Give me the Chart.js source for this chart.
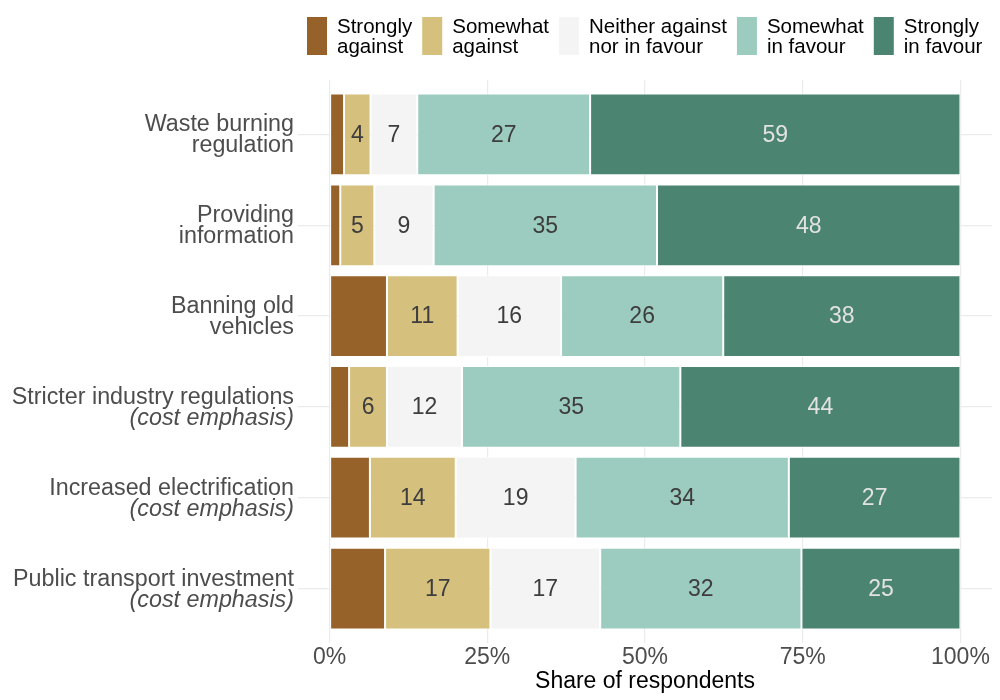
<!DOCTYPE html>
<html>
<head>
<meta charset="utf-8">
<script src="https://cdn.jsdelivr.net/npm/chart.js@4.4.1/dist/chart.umd.min.js"></script>
<style>
  html, body { margin: 0; padding: 0; background: #ffffff; }
  #wrap { width: 1000px; height: 700px; position: relative; }
</style>
</head>
<body>
<div id="wrap"><canvas id="c" width="1000" height="700"></canvas></div>
<script>
// ---- data ----
const categoryMain = [
  ["Waste burning", "regulation"],
  ["Providing", "information"],
  ["Banning old", "vehicles"],
  ["Stricter industry regulations"],
  ["Increased electrification"],
  ["Public transport investment"]
];
const categoryNote = [null, null, null, "(cost emphasis)", "(cost emphasis)", "(cost emphasis)"];

const seriesNames = [
  ["Strongly", "against"],
  ["Somewhat", "against"],
  ["Neither against", "nor in favour"],
  ["Somewhat", "in favour"],
  ["Strongly", "in favour"]
];
const stronglyAgainst = [2.3, 1.7, 9.1, 3.1, 6.4, 8.8];
const somewhatAgainst = [4.2, 5.4, 11.2, 6.0, 13.6, 16.7];
const neither         = [7.4, 9.4, 16.4, 11.9, 19.0, 17.4];
const somewhatFavour  = [27.4, 35.4, 25.7, 34.6, 33.8, 31.9];
const stronglyFavour  = [58.7, 48.1, 37.6, 44.4, 27.2, 25.2];
const seriesValues = [stronglyAgainst, somewhatAgainst, neither, somewhatFavour, stronglyFavour];

const xTickValues = [0, 25, 50, 75, 100];
const xTitle = "Share of respondents";

// ---- styles ----
const seriesColors = ["#97622a", "#d6c07d", "#f4f4f4", "#9ccbbf", "#4b8470"];
const labelColors  = [null, "#3d3d3d", "#3d3d3d", "#3d3d3d", "#e2e2e2"];
const FONT = "'Liberation Sans', Arial, Helvetica, sans-serif";

const datasets = seriesValues.map((vals, si) => ({
  label: seriesNames[si].join(" "),
  data: vals.map((v, i) => ({ x: v, y: i })),
  backgroundColor: seriesColors[si],
  borderColor: "#ffffff",
  borderWidth: 1,
  borderSkipped: false,
  categoryPercentage: 0.9,
  barPercentage: 1.0
}));

const customDraw = {
  id: "customDraw",
  afterDatasetsDraw(chart) {
    const ctx = chart.ctx;
    ctx.save();
    ctx.font = "23px " + FONT;
    ctx.textAlign = "center";
    ctx.textBaseline = "middle";
    chart.data.datasets.forEach((ds, si) => {
      if (!labelColors[si]) return;
      const meta = chart.getDatasetMeta(si);
      meta.data.forEach((bar, i) => {
        const v = seriesValues[si][i];
        const p = bar.getProps(["x", "base", "y"], true);
        const cx = (p.x + p.base) / 2;
        ctx.fillStyle = labelColors[si];
        ctx.fillText(String(Math.round(v)), cx, p.y + 1);
      });
    });
    ctx.restore();
  },
  afterDraw(chart) {
    const ctx = chart.ctx;
    const yScale = chart.scales.y;
    ctx.save();
    ctx.textAlign = "right";
    ctx.textBaseline = "alphabetic";
    ctx.fillStyle = "#4d4d4d";
    const rightX = yScale.right - 4;
    categoryMain.forEach((lines, i) => {
      const cy = yScale.getPixelForValue(i);
      const all = lines.map(t => ({ t, it: false }));
      if (categoryNote[i]) all.push({ t: categoryNote[i], it: true });
      const lh = 21;
      const first = cy - 3 - (all.length - 2) * lh / 2;
      all.forEach((ln, k) => {
        ctx.font = (ln.it ? "italic " : "") + "23.3px " + FONT;
        ctx.fillText(ln.t, rightX, first + k * lh);
      });
    });
    ctx.restore();

    ctx.save();
    ctx.font = "20.5px " + FONT;
    ctx.textAlign = "left";
    ctx.textBaseline = "alphabetic";
    let x = 307;
    seriesNames.forEach((lines, si) => {
      ctx.fillStyle = seriesColors[si];
      ctx.fillRect(x, 17, 20, 38);
      ctx.fillStyle = "#000000";
      let w = 0;
      lines.forEach((t, k) => {
        ctx.fillText(t, x + 30, 33 + k * 20);
        w = Math.max(w, ctx.measureText(t).width);
      });
      x += 30 + w + 10;
    });
    ctx.restore();
  }
};

new Chart(document.getElementById("c"), {
  type: "bar",
  data: { datasets },
  options: {
    indexAxis: "y",
    responsive: false,
    animation: false,
    devicePixelRatio: 1,
    layout: { padding: { top: 80, right: 8, bottom: 0, left: 0 } },
    plugins: {
      legend: { display: false },
      tooltip: { enabled: false }
    },
    scales: {
      x: {
        type: "linear",
        stacked: true,
        offset: false,
        min: -5,
        max: 105,
        afterBuildTicks: s => { s.ticks = xTickValues.map(v => ({ value: v })); },
        afterFit: s => { s.height = 57; },
        grid: { color: "#ebebeb", lineWidth: 1.2, drawTicks: false, offset: false },
        border: { display: false },
        ticks: {
          padding: 1,
          color: "#4d4d4d",
          font: { family: FONT, size: 23 },
          callback: v => v + "%",
          maxRotation: 0
        },
        title: {
          display: true,
          text: xTitle,
          color: "#000000",
          font: { family: FONT, size: 23 },
          padding: { top: 0, bottom: 5 }
        }
      },
      y: {
        type: "linear",
        stacked: true,
        reverse: true,
        offset: false,
        min: -0.6,
        max: 5.6,
        afterBuildTicks: s => { s.ticks = categoryMain.map((c, i) => ({ value: i })); },
        afterFit: s => { s.width = 298; },
        grid: { color: "#ebebeb", lineWidth: 1.2, drawTicks: false, offset: false },
        border: { display: false },
        ticks: { display: false }
      }
    }
  },
  plugins: [customDraw]
});
</script>
</body>
</html>
